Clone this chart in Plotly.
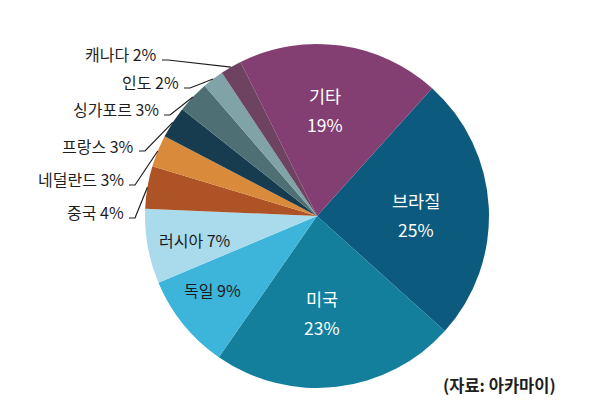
import math
import plotly.graph_objects as go

# ---- data ----
countries = ["브라질", "미국", "독일", "러시아", "중국", "네덜란드", "프랑스", "싱가포르", "인도", "캐나다", "기타"]
shares = [25, 23, 9, 7, 4, 3, 3, 3, 2, 2, 19]
source_note = "(자료: 아카마이)"

colors = ["#0c5a7d", "#137f9c", "#3db4d9", "#a9dbed", "#ad5326", "#d98a3a",
          "#173c4f", "#4e7075", "#80a3a7", "#6d4361", "#843f72"]

W, H = 600, 415
FONT = "Noto Sans CJK KR, Noto Sans, sans-serif"

# pie geometry (pixels)
CX, CY, R = 317, 216, 172
ROT = 42

dom_x = [(CX - R) / W, (CX + R) / W]
dom_y = [(H - CY - R) / H, (H - CY + R) / H]

fig = go.Figure(go.Pie(
    labels=countries,
    values=shares,
    sort=False,
    direction="clockwise",
    rotation=ROT,
    marker=dict(colors=colors, line=dict(width=0)),
    textinfo="none",
    hoverinfo="label+percent",
    domain=dict(x=dom_x, y=dom_y),
    showlegend=False,
))

# inside labels: (radius px, angle nudge deg, two lines?, color, size)
inside_layout = {
    "기타": (106, -3.5, True, "white", 17.5),
    "브라질": (99, 2.5, True, "white", 17.5),
    "미국": (97, 3.5, True, "white", 17.5),
    "독일": (128, 3.8, False, "#1b1b1b", 16),
    "러시아": (124, -0.8, False, "#1b1b1b", 16),
}
# outside labels: label anchor (right end x, center y) and line start (pixels)
outside_layout = {
    "캐나다": ((159, 54), (162, 60)),
    "인도": ((181, 82), (184, 88)),
    "싱가포르": ((161, 109), (164, 115)),
    "프랑스": ((136, 146), (139, 151)),
    "네덜란드": ((126, 179), (129, 185)),
    "중국": ((126, 212), (129, 218)),
}

def px(x, y):
    return x / W, 1 - y / H

total = sum(shares)
cum = 0
annotations, shapes = [], []
for c, v in zip(countries, shares):
    mid = cum + v / 2
    cum += v
    theta_deg = ROT + 360 * mid / total
    if c in inside_layout:
        r, nudge, two, col, sz = inside_layout[c]
        th = math.radians(theta_deg + nudge)
        x = CX + r * math.sin(th)
        y = CY - r * math.cos(th)
        if two:
            lines = [(c, y - 14.5), (f"{v}%", y + 14.5)]
        else:
            lines = [(f"{c} {v}%", y)]
        for t, yy in lines:
            ax, ay = px(x, yy)
            annotations.append(dict(
                x=ax, y=ay, xref="paper", yref="paper", xanchor="center", yanchor="middle",
                text=t, showarrow=False, font=dict(family=FONT, size=sz, color=col),
            ))
        continue
    if c not in outside_layout:
        continue
    theta = math.radians(theta_deg)
    ex = CX + R * math.sin(theta)
    ey = CY - R * math.cos(theta)
    (tx, ty), (sx, sy) = outside_layout[c]
    ax, ay = px(tx, ty)
    annotations.append(dict(
        x=ax, y=ay, xref="paper", yref="paper", xanchor="right", yanchor="middle",
        text=f"{c} {v}%", showarrow=False,
        font=dict(family=FONT, size=16, color="#1e1e1e"),
    ))
    p0 = px(sx, sy)
    p1 = px(sx + 6, sy)
    p2 = px(ex, ey)
    shapes.append(dict(
        type="path", xref="paper", yref="paper",
        path=f"M {p0[0]} {p0[1]} L {p1[0]} {p1[1]} L {p2[0]} {p2[1]}",
        line=dict(color="#1e1e1e", width=1.2),
    ))

sx_, sy_ = px(558, 385)
annotations.append(dict(
    x=sx_, y=sy_, xref="paper", yref="paper", xanchor="right", yanchor="middle",
    text=f"<b>{source_note}</b>", showarrow=False,
    font=dict(family=FONT, size=16.5, color="#1e1e1e"),
))

fig.update_layout(
    width=W, height=H,
    margin=dict(l=0, r=0, t=0, b=0),
    paper_bgcolor="white", plot_bgcolor="white",
    annotations=annotations, shapes=shapes,
)

fig.write_html("out.html")
